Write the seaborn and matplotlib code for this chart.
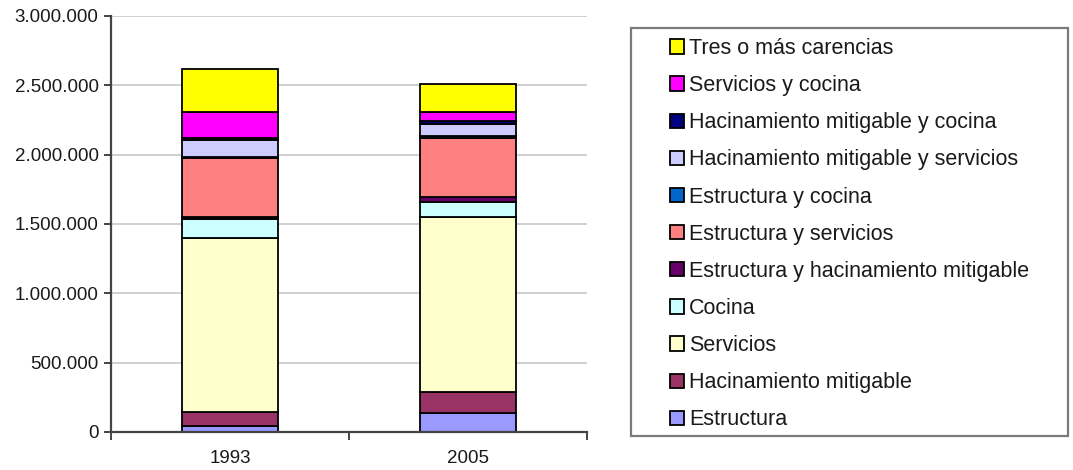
import matplotlib
matplotlib.use("Agg")
import matplotlib.pyplot as plt
from matplotlib.patches import Patch, Rectangle
from matplotlib.ticker import FuncFormatter, MultipleLocator, FixedLocator
import pandas as pd
import seaborn as sns

# Households by type of housing deficit, 1993 vs 2005
years = ["1993", "2005"]
categories = [
    "Tres o más carencias",
    "Servicios y cocina",
    "Hacinamiento mitigable y cocina",
    "Hacinamiento mitigable y servicios",
    "Estructura y cocina",
    "Estructura y servicios",
    "Estructura y hacinamiento mitigable",
    "Cocina",
    "Servicios",
    "Hacinamiento mitigable",
    "Estructura",
]
values_1993 = [305000, 193000, 12000, 125000, 6000, 420000, 18000, 135000, 1257000, 99000, 45000]
values_2005 = [200000, 70000, 22000, 86000, 14000, 421000, 36000, 108000, 1267000, 151000, 135000]
colors = ["#FFFF00", "#FF00FF", "#000080", "#CCCCFF", "#0066CC", "#FF8080",
          "#660066", "#CCFFFF", "#FFFFCC", "#993366", "#9999FF"]

rows = []
for year, vals in zip(years, [values_1993, values_2005]):
    for cat, v in zip(categories, vals):
        rows.append({"year": year, "category": cat, "value": v})
df = pd.DataFrame(rows)

sns.set_theme(style="white")
plt.rcParams["font.family"] = ["Liberation Sans", "DejaVu Sans"]

fig = plt.figure(figsize=(10.73, 4.70), dpi=100)
ax = fig.add_axes([111 / 1073, 1 - 432 / 470, 476 / 1073, 416 / 470])

sns.histplot(
    data=df, x="year", hue="category", weights="value",
    hue_order=categories, palette=colors,
    multiple="stack", discrete=True, shrink=0.4,
    edgecolor="black", linewidth=1.3, alpha=1.0,
    legend=False, ax=ax,
)

ax.set_xlim(-0.5, 1.5)
ax.set_ylim(0, 3000000)
ax.yaxis.set_major_locator(MultipleLocator(500000))
ax.yaxis.set_major_formatter(FuncFormatter(lambda v, p: f"{int(v):,}".replace(",", ".")))
ax.set_xticks([0, 1])
ax.set_xticklabels(years)
ax.xaxis.set_minor_locator(FixedLocator([-0.5, 0.5, 1.5]))
ax.tick_params(axis="x", which="major", length=0, pad=13, labelsize=13.5, labelcolor="#1a1a1a")
ax.tick_params(axis="x", which="minor", length=6, width=1.4, color="#444444", direction="out", bottom=True)
ax.tick_params(axis="y", length=5, width=1.4, color="#444444", direction="out", left=True,
               labelsize=13.5, labelcolor="#1a1a1a", pad=4)
ax.set_xlabel("")
ax.set_ylabel("")

ax.yaxis.grid(True, color="#c8c8c8", linewidth=1.2)
ax.set_axisbelow(True)
for side in ["top", "right"]:
    ax.spines[side].set_visible(False)
for side in ["left", "bottom"]:
    ax.spines[side].set_color("#444444")
    ax.spines[side].set_linewidth(1.6)

# Legend box
fig.patches.append(Rectangle((631 / 1073, 1 - 436 / 470), 437 / 1073, 408 / 470,
                             transform=fig.transFigure, fill=False,
                             edgecolor="#7a7a7a", linewidth=1.6))
handles = [Patch(facecolor=c, edgecolor="black", linewidth=1.3) for c in colors]
fig.legend(handles, categories, loc="upper left",
           bbox_to_anchor=(670 / 1073, 1 - 38 / 470),
           frameon=False, fontsize=15.5, labelcolor="#1a1a1a",
           handlelength=0.65, handleheight=0.65, handletextpad=0.25,
           labelspacing=0.75, borderpad=0, borderaxespad=0)

fig.savefig("out.png", dpi=100)
